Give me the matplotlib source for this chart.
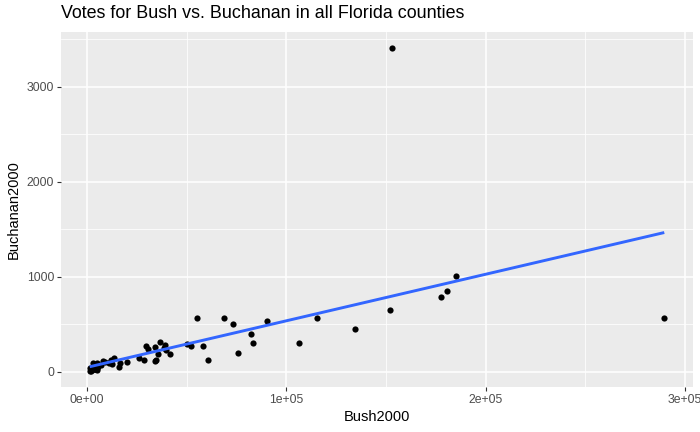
import numpy as np
import matplotlib
matplotlib.use("Agg")
from matplotlib import pyplot as plt

plt.rcParams['font.family'] = ['Liberation Sans', 'DejaVu Sans']

# Florida 2000 county totals
counties = ["Alachua", "Baker", "Bay", "Bradford", "Brevard", "Broward", "Calhoun",
            "Charlotte", "Citrus", "Clay", "Collier", "Columbia", "Dade", "De Soto",
            "Dixie", "Duval", "Escambia", "Flagler", "Franklin", "Gadsden", "Gilchrist",
            "Glades", "Gulf", "Hamilton", "Hardee", "Hendry", "Hernando", "Highlands",
            "Hillsborough", "Holmes", "Indian River", "Jackson", "Jefferson", "Lafayette",
            "Lake", "Lee", "Leon", "Levy", "Liberty", "Madison", "Manatee", "Marion",
            "Martin", "Monroe", "Nassau", "Okaloosa", "Okeechobee", "Orange", "Osceola",
            "Palm Beach", "Pasco", "Pinellas", "Polk", "Putnam", "St. Johns", "St. Lucie",
            "Santa Rosa", "Sarasota", "Seminole", "Sumter", "Suwannee", "Taylor", "Union",
            "Volusia", "Wakulla", "Walton", "Washington"]
bush = [34124, 5610, 38637, 5414, 115185, 177323, 2873, 35426, 29767, 41736, 60450,
        10964, 289533, 4256, 2698, 152082, 73029, 12608, 2448, 4750, 3300, 1841, 3546,
        2153, 3764, 4743, 30646, 20206, 180713, 5011, 28635, 9138, 2481, 1669, 49965,
        106141, 39053, 6860, 1316, 3038, 57948, 55135, 33972, 16059, 16404, 52186, 5057,
        134517, 26237, 152846, 68582, 184884, 90310, 13457, 39564, 34705, 36339, 83100,
        75790, 12127, 8006, 4051, 2326, 82214, 4512, 12182, 4994]
buchanan = [263, 73, 248, 65, 570, 789, 90, 182, 270, 186, 122, 89, 561, 36, 29, 650,
            504, 83, 33, 39, 29, 9, 71, 24, 30, 22, 242, 99, 845, 76, 127, 102, 29, 10,
            289, 305, 282, 67, 39, 29, 272, 563, 108, 47, 90, 267, 43, 446, 145, 3407,
            570, 1010, 538, 147, 229, 124, 311, 305, 194, 114, 108, 27, 37, 396, 46, 120, 88]

x = np.array(bush, dtype=float)
y = np.array(buchanan, dtype=float)

# lm fit like geom_smooth(method="lm", se=FALSE)
slope, intercept = np.polyfit(x, y, 1)
xfit = np.array([x.min(), x.max()])
yfit = intercept + slope * xfit

fig = plt.figure(figsize=(7, 4.32), dpi=100)
ax = fig.add_axes([61/700, 45/432, 632/700, 355/432])
ax.set_facecolor("#EBEBEB")
for s in ax.spines.values():
  s.set_visible(False)

ax.scatter(x, y, s=20, color="black", zorder=3, linewidths=0)
ax.plot(xfit, yfit, color="#3366FF", lw=2.1, zorder=4, solid_capstyle="butt")

xr = x.max() - x.min()
ax.set_xlim(x.min() - 0.05*xr, x.max() + 0.05*xr)
yr = y.max() - y.min()
ax.set_ylim(y.min() - 0.05*yr, y.max() + 0.05*yr)

ax.set_xticks([0, 1e5, 2e5, 3e5])
ax.set_xticklabels(["0e+00", "1e+05", "2e+05", "3e+05"])
ax.set_xticks([5e4, 1.5e5, 2.5e5], minor=True)
ax.set_yticks([0, 1000, 2000, 3000])
ax.set_yticks([500, 1500, 2500, 3500], minor=True)

ax.grid(which="major", color="white", lw=1.1)
ax.grid(which="minor", color="white", lw=0.55)
ax.set_axisbelow(True)
ax.tick_params(which="major", length=3, color="#333333", width=0.8,
               labelsize=8.8, labelcolor="#4D4D4D", pad=2)
ax.tick_params(which="minor", length=0)

ax.set_xlabel("Bush2000", fontsize=10.5, labelpad=3)
ax.set_ylabel("Buchanan2000", fontsize=10.5, labelpad=4.5)
fig.text(61/700, 1 - 14/432, "Votes for Bush vs. Buchanan in all Florida counties",
         fontsize=12.9, ha="left", va="center")

fig.savefig("out.png", dpi=100)
